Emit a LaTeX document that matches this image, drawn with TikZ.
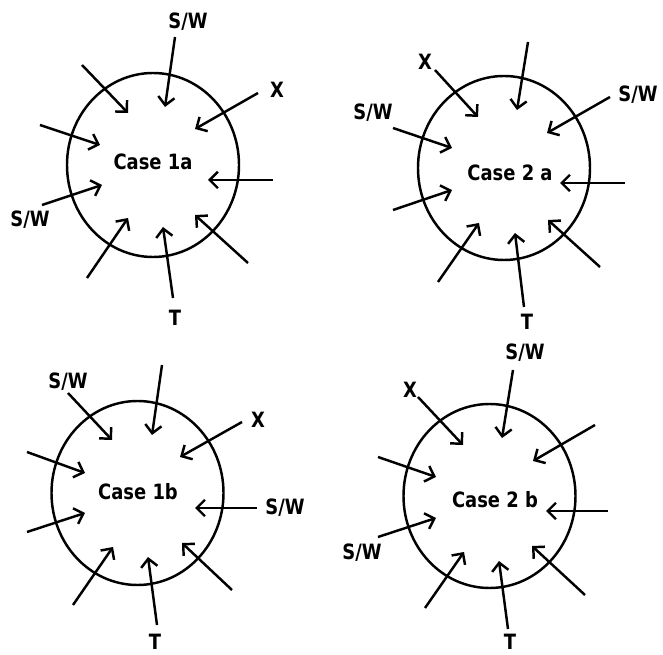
\documentclass[tikz,border=0pt]{standalone}
\usepackage{fontspec}
\setmainfont{DejaVu Sans}[FakeStretch=0.85]
\usetikzlibrary{arrows.meta,shapes.geometric}

\tikzset{
  casering/.style = {draw, ellipse, line width=2.1pt, minimum width=5.16cm, minimum height=5.52cm, inner sep=0pt},
  casetext/.style = {font=\bfseries\fontsize{18}{20}\selectfont, inner sep=0pt},
  lbl/.style = {font=\bfseries\fontsize{18}{20}\selectfont, inner sep=0pt},
  inarrow/.style = {line width=2.1pt, -{Straight Barb[length=7pt,width=14pt,line width=2.1pt]}}
}

\begin{document}
\begin{tikzpicture}[x=0.03cm, y=-0.03cm]
    \useasboundingbox (0,0) rectangle (663,655);

    % Rings
    \node[casering] (r1a) at (153,165) {};
    \node[casering] (r2a) at (504,168) {};
    \node[casering] (r1b) at (137.5,493) {};
    \node[casering] (r2b) at (489.5,496) {};

    % Case names
    \node[casetext] (t1a) at (153,162) {Case 1a};
    \node[casetext] (t2a) at (510,173) {Case 2 a};
    \node[casetext] (t1b) at (138,492) {Case 1b};
    \node[casetext] (t2b) at (495,500) {Case 2 b};

    % Labels
    \node[lbl] (sw1a-top) at (188,22) {S/W};
    \node[lbl] (x1a) at (277,90) {X};
    \node[lbl] (sw1a-left) at (30,220) {S/W};
    \node[lbl] (t1a-bot) at (175,318) {T};

    \node[lbl] (x2a) at (425,62) {X};
    \node[lbl] (sw2a-left) at (373,113) {S/W};
    \node[lbl] (sw2a-right) at (638,95) {S/W};
    \node[lbl] (t2a-bot) at (527,322) {T};

    \node[lbl] (sw1b-top) at (68,382) {S/W};
    \node[lbl] (x1b) at (258,420) {X};
    \node[lbl] (sw1b-right) at (285,508) {S/W};
    \node[lbl] (t1b-bot) at (155,642) {T};

    \node[lbl] (sw2b-top) at (525,353) {S/W};
    \node[lbl] (x2b) at (410,390) {X};
    \node[lbl] (sw2b-left) at (362,553) {S/W};
    \node[lbl] (t2b-bot) at (510,642) {T};

    % Arrows, Case 1a
    \foreach \i/\sx/\sy/\ex/\ey in {1/175/37/165/107, 2/258/93/195/129, 3/273/180/208/180,
        4/248/263/195/215, 5/173/298/163/227, 6/87/278/128/218,
        7/42/205/102/185, 8/40/125/100/145, 9/82/65/128/113} {
      \coordinate (a1a-s\i) at (\sx,\sy);
      \coordinate (a1a-e\i) at (\ex,\ey);
      \draw[inarrow] (a1a-s\i) -- (a1a-e\i);
    }

    % Arrows, Case 2a
    \foreach \i/\sx/\sy/\ex/\ey in {1/528/42/517/110, 2/610/97/547/133, 3/625/183/560/183,
        4/600/267/548/220, 5/524/307/515/233, 6/438/282/479/223,
        7/393/210/452/190, 8/393/128/452/148, 9/435/70/478/117} {
      \coordinate (a2a-s\i) at (\sx,\sy);
      \coordinate (a2a-e\i) at (\ex,\ey);
      \draw[inarrow] (a2a-s\i) -- (a2a-e\i);
    }

    % Arrows, Case 1b
    \foreach \i/\sx/\sy/\ex/\ey in {1/68/393/112/440, 2/162/365/152/435, 3/242/422/180/457,
        4/257/508/195/508, 5/232/590/182/543, 6/157/625/148/557,
        7/73/605/113/547, 8/27/532/85/513, 9/27/452/85/473} {
      \coordinate (a1b-s\i) at (\sx,\sy);
      \coordinate (a1b-e\i) at (\ex,\ey);
      \draw[inarrow] (a1b-s\i) -- (a1b-e\i);
    }

    % Arrows, Case 2b
    \foreach \i/\sx/\sy/\ex/\ey in {1/513/370/502/438, 2/418/397/463/445, 3/595/425/533/461,
        4/608/511/546/511, 5/585/595/532/546, 6/508/629/499/561,
        7/425/608/464/552, 8/378/537/436/518, 9/378/457/436/477} {
      \coordinate (a2b-s\i) at (\sx,\sy);
      \coordinate (a2b-e\i) at (\ex,\ey);
      \draw[inarrow] (a2b-s\i) -- (a2b-e\i);
    }

\end{tikzpicture}
\end{document}
